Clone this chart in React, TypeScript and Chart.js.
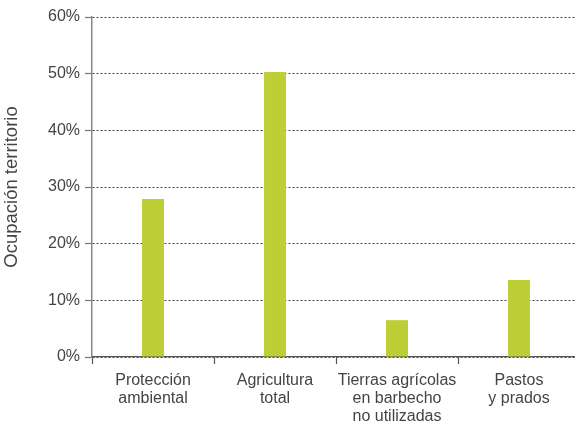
import React, { useEffect, useRef } from "react";
import { Chart, registerables } from "chart.js";

Chart.register(...registerables);

const categories: string[][] = [
  ["Protección", "ambiental"],
  ["Agricultura", "total"],
  ["Tierras agrícolas", "en barbecho", "no utilizadas"],
  ["Pastos", "y prados"],
];
const values: number[] = [27.9, 50.3, 6.5, 13.6];
const yTicks: number[] = [0, 10, 20, 30, 40, 50, 60];
const yTitle = "Ocupación territorio";

const widenPlugin = {
  id: "widen",
  afterLayout(chart: any) {
    const x = chart.scales.x;
    const right = 580;
    chart.chartArea.right = right;
    chart.chartArea.width = right - chart.chartArea.left;
    x.right = right;
    x.width = right - x.left;
    x.configure();
  },
};

export default function App() {
  const ref = useRef<HTMLCanvasElement | null>(null);
  useEffect(() => {
    document.body.style.margin = "0";
    const ctx = ref.current!;
    const family = "'Liberation Sans', Arial, sans-serif";
    const font = { family, size: 16, lineHeight: 1.12 };
    const chart = new Chart(ctx, {
      type: "bar",
      data: {
        labels: categories,
        datasets: [
          {
            data: values,
            backgroundColor: "#BECE37",
            barPercentage: 0.18,
            categoryPercentage: 1,
          },
        ],
      },
      plugins: [widenPlugin],
      options: {
        responsive: false,
        animation: false,
        layout: { padding: { top: 17, right: 0, left: 0, bottom: 0 } },
        plugins: { legend: { display: false }, tooltip: { enabled: false } },
        scales: {
          x: {
            grid: {
              display: true,
              drawOnChartArea: false,
              drawTicks: true,
              tickLength: 7,
              tickColor: "#555",
              tickWidth: 1.2,
              offset: true,
            },
            border: { display: true, color: "#555", width: 1.2 },
            ticks: { color: "#444", font, padding: 8, maxRotation: 0, autoSkip: false },
            afterFit: (s: any) => {
              s.height = 65;
            },
          },
          y: {
            min: 0,
            max: 60,
            afterBuildTicks: (s: any) => {
              s.ticks = yTicks.map((v) => ({ value: v }));
            },
            grid: {
              color: "#444",
              lineWidth: 1,
              drawTicks: true,
              tickLength: 7,
              tickColor: "#777",
              tickWidth: 1.2,
              tickBorderDash: [],
            },
            border: { display: true, color: "#888", width: 1.5, dash: [2, 2] },
            ticks: {
              color: "#444",
              font,
              padding: 5,
              callback: (v: any) => v + "%",
            },
            title: {
              display: true,
              text: yTitle,
              color: "#444",
              font: { family, size: 18.5, lineHeight: 1.1 },
              padding: { top: 2, bottom: 0 },
            },
            afterFit: (s: any) => {
              s.width = 92;
            },
          },
        },
      },
    });
    return () => chart.destroy();
  }, []);
  return (
    <div style={{ position: "absolute", left: 0, top: 0, width: 575, height: 422 }}>
      <canvas ref={ref} width={575} height={422} style={{ width: 575, height: 422 }} />
    </div>
  );
}
